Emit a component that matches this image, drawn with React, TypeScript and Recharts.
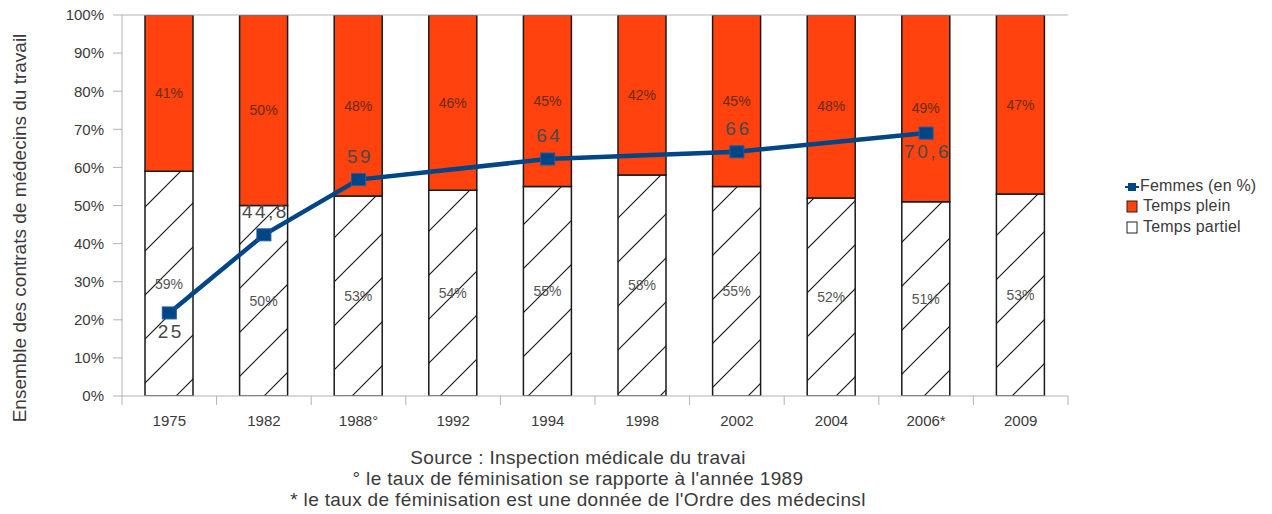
import React from 'react';
import { ComposedChart, Bar, Line, XAxis, YAxis, ReferenceLine, LabelList } from 'recharts';

const categories = ['1975', '1982', '1988°', '1992', '1994', '1998', '2002', '2004', '2006*', '2009'];
const tempsPartiel = [59, 50, 53, 54, 55, 58, 55, 52, 51, 53];
const tempsPlein = [41, 50, 48, 46, 45, 42, 45, 48, 49, 47];
// plotted position (in %) of the women-rate line
const femmesPlot: (number | null)[] = [21.8, 42.3, 56.8, null, 62.2, null, 64.1, null, 69.0, null];
// value labels printed next to the line points
const femmesLabels: (string | null)[] = ['25', '44,8', '59', null, '64', null, '66', null, '70,6', null];
const yTicks = [0, 0.1, 0.2, 0.3, 0.4, 0.5, 0.6, 0.7, 0.8, 0.9, 1];
const footerLines = [
  'Source : Inspection médicale du travai',
  '° le taux de féminisation se rapporte à l\'année 1989',
  '* le taux de féminisation est une donnée de l\'Ordre des médecinsl',
];

const data = categories.map((c, i) => ({
  cat: c,
  partiel: tempsPartiel[i],
  plein: tempsPlein[i],
  femmes: femmesPlot[i],
  femmesLabel: femmesLabels[i],
}));

const FONT = '"Liberation Sans", Arial, sans-serif';
const AXIS = '#b3b3b3';
const TXT = '#3a3a3a';
const RED = '#ff420e';
const BLUE = '#004586';
const belowIdx = new Set([0, 8]);

const XTick = (props: any) => {
  const { x, y, payload, index, width, visibleTicksCount } = props;
  const n = visibleTicksCount || categories.length;
  const band = width ? width / n : 94.6;
  const half = band / 2;
  return (
    <g>
      <line x1={x - half} x2={x - half} y1={y} y2={y + 9} stroke={AXIS} strokeWidth={1} />
      {index === n - 1 && <line x1={x + half} x2={x + half} y1={y} y2={y + 9} stroke={AXIS} strokeWidth={1} />}
      <text x={x} y={y + 26} textAnchor="middle" dominantBaseline="middle" fontSize={15} fill={TXT} fontFamily={FONT}>
        {payload.value}
      </text>
    </g>
  );
};

const FemmesLabel = (props: any) => {
  const { x, y, index } = props;
  const lbl = data[index] ? data[index].femmesLabel : null;
  if (lbl == null || x == null || y == null) return null;
  const dy = belowIdx.has(index) ? 20 : -22;
  return (
    <text x={x + 1.5} y={y + dy} textAnchor="middle" dominantBaseline="middle" fontSize={19} letterSpacing={2.5} fill="#4a4a4a" fontFamily={FONT}>
      {lbl}
    </text>
  );
};

const SquareDot = (props: any) => {
  const { cx, cy, index } = props;
  if (cx == null || cy == null || data[index]?.femmes == null) return <g key={`d${index}`} />;
  return <rect key={`d${index}`} x={cx - 7} y={cy - 6} width={14} height={12} fill={BLUE} stroke="#1d5c9c" strokeWidth={1} />;
};

export default function App() {
  return (
    <div style={{ position: 'absolute', left: 0, top: 0, width: 1272, height: 514, background: '#fff', fontFamily: FONT }}>
      <svg width={0} height={0} style={{ position: 'absolute' }}>
        <defs>
          <pattern id="hatch" patternUnits="userSpaceOnUse" width={44} height={44}>
            <rect x={0} y={0} width={44} height={44} fill="#fff" />
            <line x1={0} y1={44} x2={44} y2={0} stroke="#1a1a1a" strokeWidth={1.2} />
            <line x1={-4} y1={4} x2={4} y2={-4} stroke="#1a1a1a" strokeWidth={1.2} />
            <line x1={40} y1={48} x2={48} y2={40} stroke="#1a1a1a" strokeWidth={1.2} />
          </pattern>
        </defs>
      </svg>
      <ComposedChart
        width={1272}
        height={514}
        data={data}
        stackOffset="expand"
        margin={{ top: 15, right: 204, bottom: 88, left: 62 }}
      >
        <XAxis
          dataKey="cat"
          height={30}
          tickLine={false}
          tickSize={0}
          tickMargin={0}
          axisLine={{ stroke: AXIS }}
          tick={<XTick />}
          interval={0}
        />
        <YAxis
          yAxisId="left"
          width={60}
          domain={[0, 1]}
          ticks={yTicks}
          tickFormatter={(v: number) => `${Math.round(v * 100)}%`}
          axisLine={{ stroke: AXIS }}
          tickLine={{ stroke: AXIS }}
          tickSize={9}
          tickMargin={9}
          tick={{ fontSize: 15, fill: TXT, fontFamily: FONT }}
          allowDataOverflow
        />
        <YAxis
          yAxisId="right"
          orientation="right"
          width={0}
          tick={false}
          tickLine={false}
          axisLine={{ stroke: AXIS }}
        />
        <ReferenceLine yAxisId="left" y={1} stroke={AXIS} strokeWidth={1} />
        <Bar yAxisId="left" dataKey="partiel" stackId="s" barSize={48} fill="url(#hatch)" stroke="#1a1a1a" strokeWidth={1.5} isAnimationActive={false}>
          <LabelList dataKey="partiel" position="center" formatter={(v: any) => `${v}%`} fontSize={14} fill="#555" fontFamily={FONT} />
        </Bar>
        <Bar yAxisId="left" dataKey="plein" stackId="s" barSize={48} fill={RED} stroke="#1a1a1a" strokeWidth={1.5} isAnimationActive={false}>
          <LabelList dataKey="plein" position="center" formatter={(v: any) => `${v}%`} fontSize={14} fill="#6a2a14" fontFamily={FONT} />
        </Bar>
        <Line
          yAxisId="left"
          dataKey={(d: any) => (d.femmes == null ? null : d.femmes / 100)}
          name="Femmes (en %)"
          stroke={BLUE}
          strokeWidth={4.5}
          connectNulls
          dot={<SquareDot />}
          activeDot={false}
          label={<FemmesLabel />}
          isAnimationActive={false}
        />
      </ComposedChart>

      <div style={{ position: 'absolute', left: 20 - 250, top: 228 - 11, width: 500, height: 22, lineHeight: '22px', textAlign: 'center', transform: 'rotate(-90deg)', fontSize: 19, color: TXT, whiteSpace: 'nowrap' }}>
        Ensemble des contrats de médecins du travail
      </div>

      <div style={{ position: 'absolute', left: 1118, top: 175, width: 154, fontSize: 16, color: TXT }}>
        <div style={{ position: 'relative', height: 22 }}>
          <svg width={16} height={22} style={{ position: 'absolute', left: 6, top: 0 }}>
            <line x1={1} x2={15} y1={12} y2={12} stroke={BLUE} strokeWidth={2} />
            <rect x={4} y={8} width={8} height={8} fill={BLUE} />
          </svg>
          <span style={{ position: 'absolute', left: 22, top: 2, whiteSpace: 'nowrap', letterSpacing: 0.2 }}>Femmes (en %)</span>
        </div>
        <div style={{ position: 'relative', height: 21 }}>
          <svg width={14} height={22} style={{ position: 'absolute', left: 8, top: 0 }}>
            <rect x={1} y={4} width={10} height={11} fill={RED} stroke="#222" strokeWidth={1} />
          </svg>
          <span style={{ position: 'absolute', left: 25, top: 0, whiteSpace: 'nowrap', letterSpacing: 0.2 }}>Temps plein</span>
        </div>
        <div style={{ position: 'relative', height: 21 }}>
          <svg width={14} height={22} style={{ position: 'absolute', left: 8, top: 0 }}>
            <rect x={1} y={4} width={10} height={11} fill="#fff" stroke="#222" strokeWidth={1} />
          </svg>
          <span style={{ position: 'absolute', left: 25, top: 0, whiteSpace: 'nowrap', letterSpacing: 0.2 }}>Temps partiel</span>
        </div>
      </div>

      <div style={{ position: 'absolute', left: 228, top: 447, width: 700, textAlign: 'center', fontSize: 19, letterSpacing: 0.35, lineHeight: '21px', color: TXT }}>
        {footerLines.map((l) => (
          <div key={l}>{l}</div>
        ))}
      </div>
    </div>
  );
}
